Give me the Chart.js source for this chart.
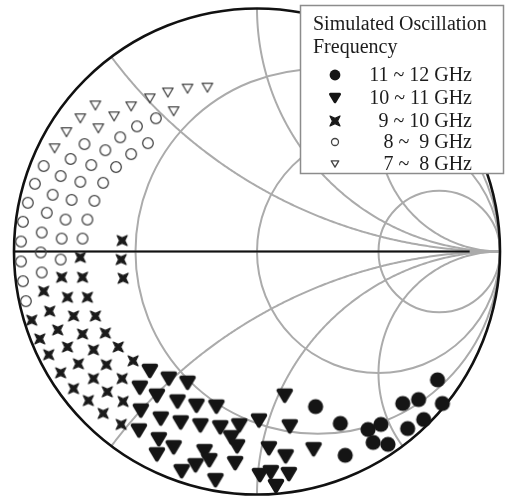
<!DOCTYPE html>
<html><head><meta charset="utf-8">
<style>html,body{margin:0;padding:0;background:#fff;}canvas{display:block;}</style>
<script src="https://cdn.jsdelivr.net/npm/chart.js@4"></script>
</head><body>
<canvas id="c" width="507" height="502"></canvas>
<script>
// Smith chart grid values
const resistanceCircles = [1/3, 1, 3];
const reactanceArcs = [0.5, 1, 2];

// Legend
const legendTitle = ['Simulated Oscillation', 'Frequency'];
const categories = ['11 ~ 12 GHz', '10 ~ 11 GHz', '9 ~ 10 GHz', '8 ~  9 GHz', '7 ~  8 GHz'];

// Reflection coefficient points [Re, Im]
const ghz11_12 = [[0.241,-0.637],[0.343,-0.706],[0.363,-0.837],[0.457,-0.731],[0.510,-0.710],[0.478,-0.784],[0.539,-0.792],[0.600,-0.624],[0.665,-0.608],[0.743,-0.527],[0.763,-0.624],[0.620,-0.727],[0.686,-0.690]];
const ghz10_11 = [[-0.441,-0.490],[-0.363,-0.522],[-0.286,-0.539],[-0.482,-0.559],[-0.412,-0.592],[-0.327,-0.616],[-0.249,-0.633],[-0.167,-0.637],[-0.478,-0.653],[-0.396,-0.686],[-0.314,-0.702],[-0.233,-0.714],[-0.151,-0.722],[-0.073,-0.714],[-0.486,-0.735],[-0.404,-0.771],[-0.343,-0.804],[-0.106,-0.763],[-0.082,-0.800],[-0.412,-0.833],[-0.216,-0.820],[-0.196,-0.857],[-0.090,-0.869],[-0.253,-0.878],[-0.310,-0.902],[-0.171,-0.939],[0.114,-0.592],[0.008,-0.694],[0.135,-0.718],[0.049,-0.808],[0.118,-0.841],[0.233,-0.812],[0.012,-0.918],[0.057,-0.906],[0.131,-0.914],[0.078,-0.963]];
const ghz9_10 = [[-0.555,0.045],[-0.727,-0.024],[-0.559,-0.033],[-0.804,-0.106],[-0.718,-0.106],[-0.551,-0.110],[-0.878,-0.163],[-0.780,-0.188],[-0.698,-0.188],[-0.853,-0.245],[-0.755,-0.265],[-0.665,-0.265],[-0.927,-0.282],[-0.820,-0.322],[-0.718,-0.339],[-0.624,-0.335],[-0.894,-0.359],[-0.780,-0.392],[-0.673,-0.404],[-0.571,-0.392],[-0.857,-0.424],[-0.735,-0.461],[-0.620,-0.465],[-0.510,-0.449],[-0.808,-0.498],[-0.673,-0.522],[-0.555,-0.522],[-0.755,-0.563],[-0.616,-0.576],[-0.694,-0.612],[-0.551,-0.616],[-0.633,-0.665],[-0.559,-0.710]];
const ghz8_9 = [[-0.416,0.547],[-0.494,0.514],[-0.563,0.469],[-0.449,0.445],[-0.710,0.441],[-0.624,0.416],[-0.518,0.400],[-0.767,0.380],[-0.682,0.355],[-0.580,0.347],[-0.878,0.351],[-0.808,0.310],[-0.727,0.286],[-0.633,0.282],[-0.914,0.278],[-0.841,0.233],[-0.763,0.212],[-0.669,0.208],[-0.943,0.200],[-0.865,0.159],[-0.788,0.131],[-0.698,0.131],[-0.963,0.122],[-0.886,0.078],[-0.804,0.053],[-0.718,0.053],[-0.971,0.041],[-0.890,-0.004],[-0.808,-0.033],[-0.971,-0.041],[-0.886,-0.086],[-0.963,-0.122],[-0.951,-0.204]];
const ghz7_8 = [[-0.204,0.673],[-0.286,0.669],[-0.367,0.653],[-0.441,0.629],[-0.343,0.576],[-0.518,0.596],[-0.665,0.600],[-0.588,0.555],[-0.727,0.547],[-0.653,0.506],[-0.784,0.490],[-0.833,0.424]];

// ---- marker glyphs ----
function glyph(size, draw){
  const c = document.createElement('canvas'); c.width = c.height = size;
  const g = c.getContext('2d'); g.translate(size/2, size/2); draw(g); return c;
}
const drawDisc = (r)=>g=>{g.fillStyle='#151515';g.beginPath();g.arc(0,0,r,0,Math.PI*2);g.fill();};
const drawTri = (w)=>g=>{const h=w*0.85;g.fillStyle=g.strokeStyle='#151515';g.lineJoin='round';g.lineWidth=w*0.28;
  const s=0.86;g.beginPath();g.moveTo(-w/2*s,-h/2*s);g.lineTo(w/2*s,-h/2*s);g.lineTo(0,h/2*s);g.closePath();g.fill();g.stroke();};
const drawCross = (s)=>g=>{const a=s/2,b=s*0.26;g.fillStyle=g.strokeStyle='#1a1a1a';g.lineJoin='round';g.lineWidth=1.2;
  g.beginPath();g.moveTo(-a,-a);g.lineTo(0,-b);g.lineTo(a,-a);g.lineTo(b,0);g.lineTo(a,a);g.lineTo(0,b);g.lineTo(-a,a);g.lineTo(-b,0);g.closePath();g.fill();g.stroke();};
const drawRing = (r)=>g=>{g.strokeStyle='#444';g.lineWidth=1.3;g.beginPath();g.arc(0,0,r,0,Math.PI*2);g.stroke();};
const drawOpenTri = (w)=>g=>{const h=w*0.85;g.strokeStyle='#444';g.lineWidth=1.3;g.lineJoin='round';
  g.beginPath();g.moveTo(-w/2,-h/2);g.lineTo(w/2,-h/2);g.lineTo(0,h/2);g.closePath();g.stroke();};

const pts = {
  disc: glyph(18, drawDisc(7.6)),
  tri: glyph(20, drawTri(14.5)),
  cross: glyph(16, drawCross(10)),
  ring: glyph(16, drawRing(5.3)),
  otri: glyph(16, drawOpenTri(10.5))
};
const legendPts = [
  glyph(14, drawDisc(5.4)),
  glyph(14, drawTri(10.5)),
  glyph(14, drawCross(10)),
  glyph(12, drawRing(3.5)),
  glyph(12, drawOpenTri(7.5))
];

const toXY = arr => arr.map(p=>({x:p[0], y:p[1]}));

// ---- Smith grid plugin ----
const smithGrid = {
  id:'smithGrid',
  beforeDatasetsDraw(chart){
    const {ctx, scales:{x, y}} = chart;
    const px = v=>x.getPixelForValue(v), py = v=>y.getPixelForValue(v);
    const k = px(1)-px(0);
    ctx.save();
    ctx.strokeStyle = '#ababab'; ctx.lineWidth = 2;
    resistanceCircles.forEach(r=>{
      ctx.beginPath(); ctx.arc(px(r/(1+r)), py(0), k/(1+r), 0, Math.PI*2); ctx.stroke();
    });
    reactanceArcs.forEach(xv=>{
      [xv, -xv].forEach(X=>{
        ctx.beginPath();
        const N = 300;
        for(let i=0;i<=N;i++){
          const phi = (i/N)*Math.PI/2*0.9995;
          const r = Math.tan(phi);
          const D = (r+1)*(r+1)+X*X;
          const gr = (r*r-1+X*X)/D, gi = 2*X/D;
          if(i===0) ctx.moveTo(px(gr), py(gi)); else ctx.lineTo(px(gr), py(gi));
        }
        ctx.lineTo(px(1), py(0));
        ctx.stroke();
      });
    });
    ctx.beginPath(); ctx.moveTo(px(-1), py(0)); ctx.lineTo(px(1), py(0)); ctx.stroke();
    ctx.strokeStyle = '#111'; ctx.lineWidth = 2;
    ctx.beginPath(); ctx.moveTo(px(-1), py(0)); ctx.lineTo(px(0.875), py(0)); ctx.stroke();
    ctx.lineWidth = 2.6;
    ctx.beginPath(); ctx.arc(px(0), py(0), k, 0, Math.PI*2); ctx.stroke();
    ctx.restore();
  }
};

// ---- legend plugin ----
const smithLegend = {
  id:'smithLegend',
  afterDatasetsDraw(chart){
    const ctx = chart.ctx;
    ctx.save();
    ctx.fillStyle = '#fff'; ctx.fillRect(300.5, 5.5, 203, 168);
    ctx.strokeStyle = '#8c8c8c'; ctx.lineWidth = 1.5; ctx.strokeRect(300.5, 5.5, 203, 168);
    ctx.fillStyle = '#1c1c1c';
    ctx.font = '20px "Liberation Serif", "Times New Roman", serif';
    ctx.textBaseline = 'alphabetic';
    ctx.textAlign = 'left';
    ctx.fillText(legendTitle[0], 313, 30);
    ctx.fillText(legendTitle[1], 313, 53);
    const rows = [75, 98, 121, 142, 164];
    ctx.textAlign = 'right'; ctx.textBaseline = 'middle';
    categories.forEach((t,i)=>{
      const g = legendPts[i];
      ctx.drawImage(g, 335 - g.width/2, rows[i] - g.height/2);
      ctx.fillText(t, 472, rows[i] + 1);
    });
    ctx.restore();
  }
};

const mkSet = (label, data, style) => ({
  label, data: toXY(data), pointStyle: style, pointRadius: 6, pointHoverRadius: 6,
  showLine: false, borderColor:'#000', backgroundColor:'#000'
});

new Chart(document.getElementById('c'), {
  type: 'scatter',
  data: { datasets: [
    mkSet(categories[4], ghz7_8, pts.otri),
    mkSet(categories[3], ghz8_9, pts.ring),
    mkSet(categories[2], ghz9_10, pts.cross),
    mkSet(categories[1], ghz10_11, pts.tri),
    mkSet(categories[0], ghz11_12, pts.disc)
  ]},
  options: {
    responsive: false, animation: false, devicePixelRatio: 1,
    layout: { padding: { left: 14, right: 3, top: 8, bottom: 4 } },
    scales: {
      x: { type:'linear', min:-1, max:1, display:false },
      y: { type:'linear', min:-1, max:1, display:false }
    },
    plugins: { legend:{display:false}, tooltip:{enabled:false} }
  },
  plugins: [smithGrid, smithLegend]
});
</script>
</body></html>
